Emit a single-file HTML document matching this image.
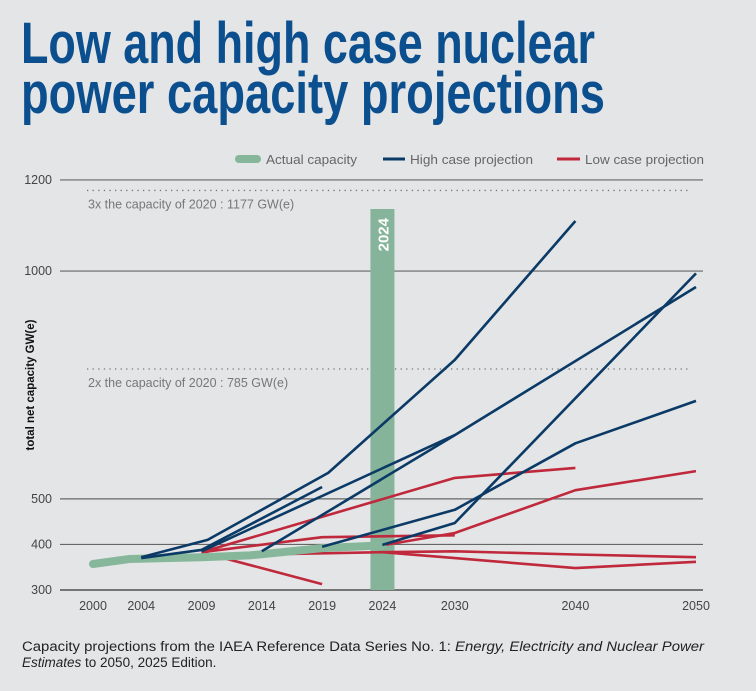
<!DOCTYPE html>
<html><head><meta charset="utf-8"><style>
html,body{margin:0;padding:0;background:#e4e5e7;}
svg{display:block;font-family:"Liberation Sans Narrow","Liberation Sans",sans-serif;}
</style></head><body>
<svg id="chart" width="756" height="691" viewBox="0 0 756 691" xmlns="http://www.w3.org/2000/svg">
<rect width="756" height="691" fill="#e4e5e7"/>
<g fill="#0b4f8f" font-weight="bold" font-size="58">
<text x="21" y="63" textLength="574" lengthAdjust="spacingAndGlyphs">Low and high case nuclear</text>
<text x="21" y="113" textLength="584" lengthAdjust="spacingAndGlyphs">power capacity projections</text>
</g>
<g font-size="13" fill="#666">
<g><line x1="239" y1="159" x2="257" y2="159" stroke="#86b79b" stroke-width="8" stroke-linecap="round"/><text x="266" y="164" textLength="91" lengthAdjust="spacingAndGlyphs">Actual capacity</text></g>
<g><line x1="383" y1="159" x2="405" y2="159" stroke="#0b3a66" stroke-width="3"/><text x="410" y="164" textLength="123" lengthAdjust="spacingAndGlyphs">High case projection</text></g>
<g><line x1="557" y1="159" x2="580" y2="159" stroke="#c0283c" stroke-width="3"/><text x="585" y="164" textLength="119" lengthAdjust="spacingAndGlyphs">Low case projection</text></g>
</g>
<g id="grid"></g>
<g id="marks"></g>
<text transform="translate(34,385) rotate(-90)" text-anchor="middle" font-size="11.5" font-weight="bold" fill="#111" font-family="Liberation Sans, sans-serif">total net capacity GW(e)</text>
<g font-family="Liberation Sans, sans-serif" font-size="13.5" fill="#222">
<text x="22" y="651" textLength="682" lengthAdjust="spacingAndGlyphs">Capacity projections from the IAEA Reference Data Series No. 1: <tspan font-style="italic">Energy, Electricity and Nuclear Power</tspan></text>
<text x="22" y="667"><tspan font-style="italic">Estimates</tspan> to 2050, 2025 Edition.</text>
</g>
</svg>
<script>
const yTicks = [300, 400, 500, 1000, 1200];
const xTicks = [2000, 2004, 2009, 2014, 2019, 2024, 2030, 2040, 2050];
const refValues = [1177, 785];
const refLabels = ["3x the capacity of 2020 : 1177 GW(e)", "2x the capacity of 2020 : 785 GW(e)"];
const actualYears = [2000, 2003, 2009, 2013, 2019, 2024];
const actualValues = [357, 368, 372, 376, 392, 398];
const highYears = [
  [2004, 2009.5, 2019.5, 2030, 2040],
  [2004, 2009, 2019],
  [2009, 2030],
  [2014, 2030, 2050],
  [2019, 2030, 2040, 2050],
  [2024, 2030, 2050]
];
const highValues = [
  [372, 410, 557, 805, 1110],
  [370, 388, 526],
  [385, 640],
  [385, 640, 965],
  [395, 476, 622, 715],
  [399, 447, 995]
];
const lowYears = [
  [2009, 2019],
  [2009, 2030, 2040],
  [2009, 2019, 2030],
  [2014, 2024, 2030, 2040, 2050],
  [2024, 2030, 2040, 2050],
  [2024, 2030, 2040, 2050]
];
const lowValues = [
  [383, 313],
  [383, 546, 568],
  [383, 416, 420],
  [378, 383, 385, 378, 372],
  [383, 370, 348, 362],
  [398, 425, 519, 561]
];
const NS = "http://www.w3.org/2000/svg";
function xs(yr){ return 93 + (yr - 2000) * (603 / 50); }
function ys(v){ return 590 - (v - 300) * 0.4556; }
function mk(tag, attrs, parent){ const e = document.createElementNS(NS, tag); for (const k in attrs) e.setAttribute(k, attrs[k]); parent.appendChild(e); return e; }
const grid = document.getElementById('grid');
const marks = document.getElementById('marks');
yTicks.forEach(v => {
  const l = mk('line', {x1: 60, x2: 703, y1: ys(v), y2: ys(v), stroke: v === 300 ? '#333' : '#666', 'stroke-width': 1.2}, grid);
  
  
  const t = mk('text', {x: 52, y: ys(v) + 4, 'text-anchor': 'end', 'font-size': 12.5, fill: '#444'}, grid);
  t.textContent = v;
  
  
});
xTicks.forEach(yr => {
  const t = mk('text', {x: xs(yr), y: 610, 'text-anchor': 'middle', 'font-size': 12.5, fill: '#444'}, grid);
  t.textContent = yr;
  
  
});
refValues.forEach((v, i) => {
  const l = mk('line', {x1: 87, x2: 690, y1: ys(v), y2: ys(v), stroke: '#777', 'stroke-width': 1.3, 'stroke-dasharray': '1.3 4.3'}, grid);
  
  
  const t = mk('text', {x: 88, y: ys(v) + 18, 'font-size': 12.5, fill: '#777'}, grid);
  t.textContent = refLabels[i];
  
  
});
const bar = mk('rect', {x: xs(2024) - 12, y: 209, width: 24, height: 590 - 209, fill: '#86b49a'}, marks);


const bt = mk('text', {transform: 'translate(' + (xs(2024) + 6) + ',218) rotate(-90)', 'text-anchor': 'end', 'font-size': 15, 'font-weight': 'bold', fill: '#fff', 'font-family': 'Liberation Sans, sans-serif'}, marks);
bt.textContent = '2024';


function pts(ys_, vs_){ return ys_.map((y, i) => xs(y).toFixed(1) + ',' + ys(vs_[i]).toFixed(1)).join(' '); }
lowYears.forEach((yrs, i) => {
  const p = mk('polyline', {points: pts(yrs, lowValues[i]), fill: 'none', stroke: '#c0283c', 'stroke-width': 2.6, 'stroke-linejoin': 'round'}, marks);
  
  
});
const act = mk('polyline', {points: pts(actualYears, actualValues), fill: 'none', stroke: '#86b79b', 'stroke-width': 8, 'stroke-linecap': 'round', 'stroke-linejoin': 'round'}, marks);


highYears.forEach((yrs, i) => {
  const p = mk('polyline', {points: pts(yrs, highValues[i]), fill: 'none', stroke: '#0b3a66', 'stroke-width': 2.6, 'stroke-linejoin': 'round'}, marks);
  
  
});
</script>
</body></html>
